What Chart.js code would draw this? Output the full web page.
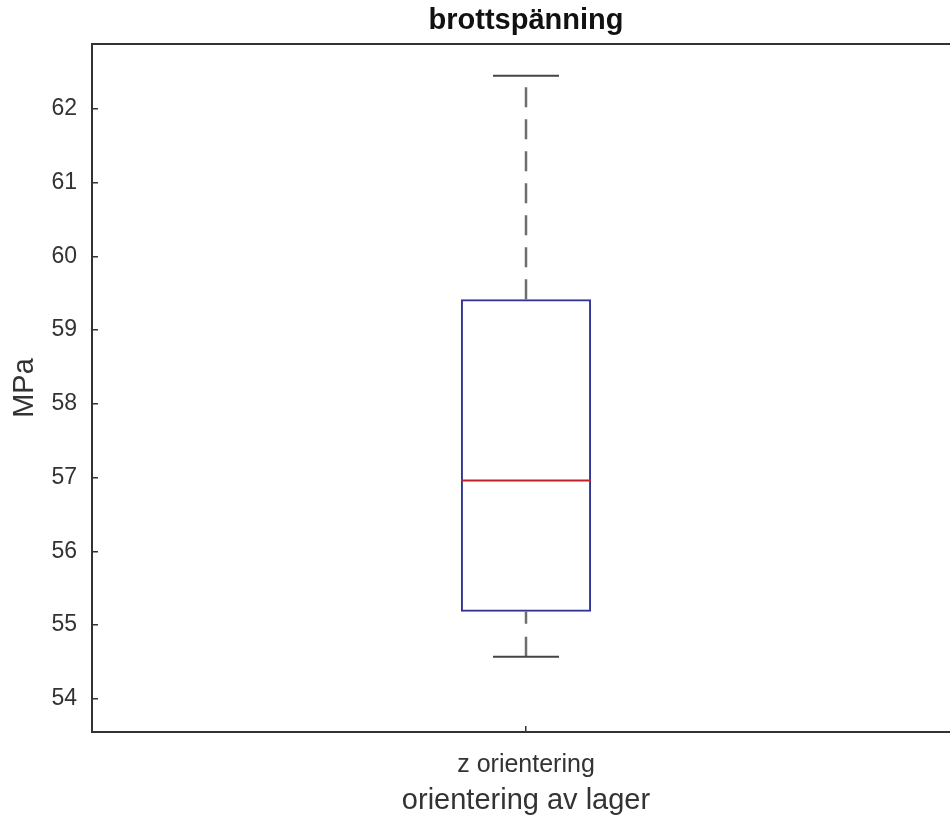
<!DOCTYPE html>
<html>
<head>
<meta charset="utf-8">
<script src="https://cdn.jsdelivr.net/npm/chart.js@4"></script>
<style>
  html, body { margin: 0; padding: 0; background: #fff; overflow: hidden; }
  #wrap { position: relative; width: 960px; height: 818px; }
</style>
</head>
<body>
<div id="wrap"><canvas id="chart"></canvas></div>
<script>
// box plot values (MPa)
const categories = ['z orientering'];
const whiskerLow = [54.57];
const q1 = [55.18];
const median = [56.96];
const q3 = [59.42];
const whiskerHigh = [62.45];
const yTicks = [54, 55, 56, 57, 58, 59, 60, 61, 62];

const axisColor = '#333333';
const textColor = '#333333';
const fontFamily = 'Liberation Sans, Arial, sans-serif';

const cat = categories[0];

const chart = new Chart(document.getElementById('chart'), {
    type: 'bar',
    data: {
        labels: categories,
        datasets: [
            {
                // box q1..q3
                label: 'box',
                data: categories.map((c, i) => [q1[i], q3[i]]),
                backgroundColor: 'rgba(0,0,0,0)',
                borderColor: '#2f3590',
                borderWidth: 2,
                borderSkipped: false,
                barPercentage: 0.15,
                categoryPercentage: 1,
                order: 1
            },
            {
                type: 'line',
                label: 'upper whisker',
                data: [{ x: cat, y: q3[0] }, { x: cat, y: whiskerHigh[0] }],
                borderColor: '#6e6e6e',
                borderWidth: 2.5,
                borderDash: [20, 12],
                pointRadius: 0,
                order: 2
            },
            {
                type: 'line',
                label: 'lower whisker',
                data: [{ x: cat, y: whiskerLow[0] }, { x: cat, y: q1[0] }],
                borderColor: '#6e6e6e',
                borderWidth: 2.5,
                borderDash: [20, 13],
                pointRadius: 0,
                order: 2
            },
            {
                type: 'line',
                label: 'caps',
                data: [{ x: cat, y: whiskerLow[0] }, { x: cat, y: whiskerHigh[0] }],
                showLine: false,
                pointStyle: 'line',
                pointRadius: 33,
                pointHoverRadius: 33,
                pointBorderWidth: 2,
                pointBorderColor: '#444444',
                order: 0
            },
            {
                type: 'line',
                label: 'median',
                data: [{ x: cat, y: median[0] }],
                showLine: false,
                pointStyle: 'line',
                pointRadius: 65,
                pointHoverRadius: 65,
                pointBorderWidth: 2,
                pointBorderColor: '#c0202a',
                order: 0
            }
        ]
    },
    options: {
        responsive: true,
        maintainAspectRatio: false,
        animation: false,
        layout: { padding: 0, autoPadding: false },
        plugins: {
            legend: { display: false },
            tooltip: { enabled: false },
            title: {
                display: true,
                text: 'brottspänning',
                fullSize: false,
                color: '#111111',
                font: { family: fontFamily, size: 29, weight: 'bold', lineHeight: 1.2 },
                padding: { top: 4, bottom: 5.2 }
            }
        },
        scales: {
            x: {
                type: 'category',
                offset: true,
                grid: {
                    offset: false,
                    drawOnChartArea: false,
                    tickLength: -6,
                    color: axisColor,
                    lineWidth: 1.5
                },
                border: { display: true, color: axisColor, width: 2 },
                ticks: {
                    color: textColor,
                    padding: 24,
                    font: { family: fontFamily, size: 25 }
                },
                title: {
                    display: true,
                    text: 'orientering av lager',
                    color: textColor,
                    font: { family: fontFamily, size: 29, lineHeight: 1.2 },
                    padding: { top: 0, bottom: 0 }
                },
                afterFit: function (scale) { scale.height = 86; }
            },
            x2: {
                type: 'linear',
                position: 'top',
                display: true,
                grid: { drawOnChartArea: false, drawTicks: false },
                border: { display: true, color: axisColor, width: 2 },
                ticks: { display: false },
                afterFit: function (scale) { scale.height = 0; }
            },
            y: {
                type: 'linear',
                min: 53.55,
                max: 62.88,
                grid: {
                    drawOnChartArea: false,
                    tickLength: -6,
                    color: axisColor,
                    lineWidth: 1.5
                },
                border: { display: true, color: axisColor, width: 2 },
                ticks: {
                    color: textColor,
                    padding: 21,
                    font: { family: fontFamily, size: 23 }
                },
                afterBuildTicks: function (scale) {
                    scale.ticks = yTicks.map(v => ({ value: v }));
                },
                title: {
                    display: true,
                    text: 'MPa',
                    color: textColor,
                    font: { family: fontFamily, size: 29, lineHeight: 1.2 },
                    padding: { top: 8 }
                },
                afterFit: function (scale) { scale.width = 92; }
            }
        }
    }
});
</script>
</body>
</html>
